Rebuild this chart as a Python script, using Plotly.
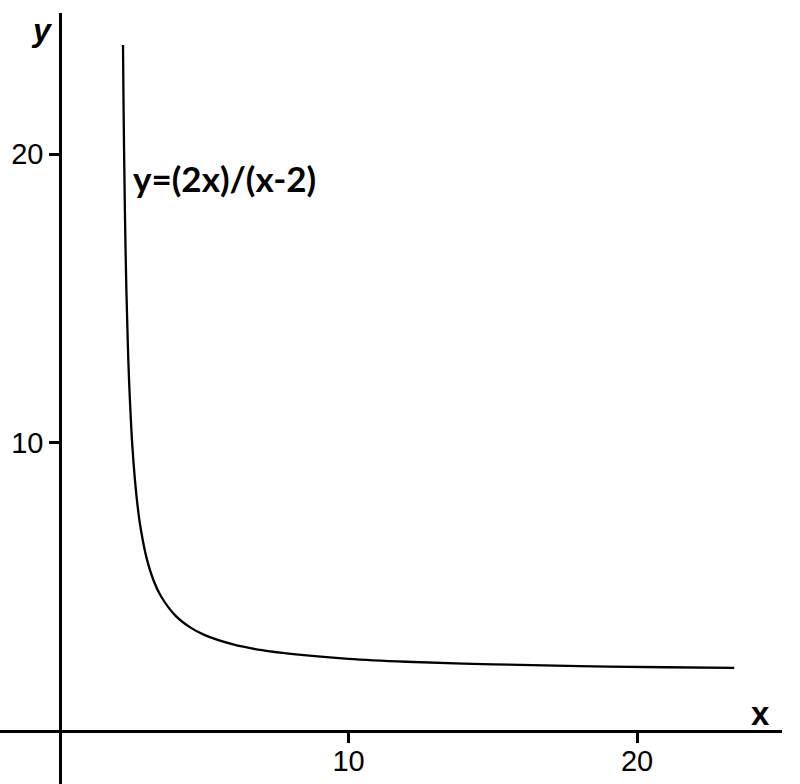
import plotly.graph_objects as go

# Points read along the plotted curve y = (2x)/(x-2)
x_vals = [2.184, 2.2, 2.22, 2.25, 2.3, 2.35, 2.4, 2.5, 2.6, 2.7, 2.8, 3.0, 3.25, 3.5,
          4.0, 4.5, 5.0, 6.0, 7.0, 8.0, 10.0, 12.0, 15.0, 18.0, 21.0, 23.37]
y_vals = [23.78, 22.0, 20.18, 18.0, 15.33, 13.43, 12.0, 10.0, 8.67, 7.71, 7.0, 6.0, 5.2, 4.67,
          4.0, 3.6, 3.33, 3.0, 2.8, 2.67, 2.5, 2.4, 2.31, 2.25, 2.21, 2.19]
x_ticks = [10, 20]
y_ticks = [10, 20]
curve_label = "y=(2x)/(x-2)"

W, H = 800, 784
ox, oy = 60, 731          # pixel position of origin
s = 28.85                  # pixels per unit
x_right, y_top = 782, 13

fig = go.Figure()
fig.add_trace(go.Scatter(x=x_vals, y=y_vals, mode="lines",
                         line=dict(color="black", width=2.3, shape="spline"),
                         hoverinfo="skip", showlegend=False))

fig.add_annotation(x=(131 - ox) / s, y=(oy - 178) / s, xref="x", yref="y", text=curve_label,
                   showarrow=False, xanchor="left", yanchor="middle",
                   font=dict(family="Lato", size=35, color="black", weight="bold"))
fig.add_annotation(x=42 / W, y=1 - 30 / H, xref="paper", yref="paper", text="<b><i>y</i></b>",
                   showarrow=False, xanchor="center", yanchor="middle",
                   font=dict(family="Liberation Sans", size=32, color="black"))
fig.add_annotation(x=760 / W, y=1 - 713 / H, xref="paper", yref="paper", text="<b>x</b>",
                   showarrow=False, xanchor="center", yanchor="middle",
                   font=dict(family="Liberation Sans", size=33, color="black"))

fig.update_layout(
    width=W, height=H, margin=dict(l=0, r=0, t=0, b=0),
    paper_bgcolor="white", plot_bgcolor="white",
    xaxis=dict(domain=[0, x_right / W], range=[-ox / s, (x_right - ox) / s],
               anchor="free", position=(H - oy) / H,
               showline=True, linecolor="black", linewidth=2.5,
               showgrid=False, zeroline=False,
               tickvals=x_ticks, ticks="outside", ticklen=10, tickwidth=2.5, tickcolor="black",
               ticklabelstandoff=-7,
               tickfont=dict(family="Liberation Sans", size=29, color="black")),
    yaxis=dict(domain=[0, 1 - y_top / H], range=[-(H - oy) / s, (oy - y_top) / s],
               anchor="free", position=ox / W,
               showline=True, linecolor="black", linewidth=2.5,
               showgrid=False, zeroline=False,
               tickvals=y_ticks, ticks="outside", ticklen=10, tickwidth=2.5, tickcolor="black",
               tickfont=dict(family="Liberation Sans", size=29, color="black")),
)

fig.write_html("out.html", config={"displayModeBar": False},
               post_script="document.body.style.margin='0';")
